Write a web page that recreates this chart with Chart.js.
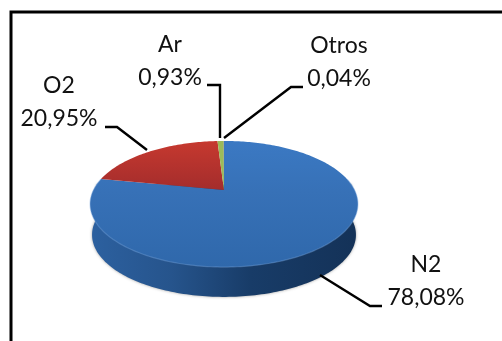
<!DOCTYPE html>
<html>
<head>
<meta charset="utf-8">
<script src="https://cdn.jsdelivr.net/npm/chart.js@4"></script>
<style>
  html, body { margin: 0; padding: 0; background: #fff; }
  canvas { display: block; }
</style>
</head>
<body>
<canvas id="airChart" width="502" height="341"></canvas>
<script>
const categories = ["N2", "O2", "Ar", "Otros"];
const percentages = [78.08, 20.95, 0.93, 0.04];
const sliceColors = ["#3a74bb", "#b93331", "#9bbb59", "#7d60a0"];

// label anchors and leader lines, same order as categories
const labelCenters = [[426, 265], [59, 86], [170, 45], [339, 46]];
const leaderLines = [
  [[320, 275], [370, 306], [382, 306]],
  [[147, 150], [117, 127], [105, 127]],
  [[220, 138], [220, 85], [207, 85]],
  [[224, 138], [291, 87], [303, 87]]
];

// tilted disc: w shrinks towards the back so the apex sits above the ellipse centre
const tilt = 0.222;
const squash = 0.459;
const wallDepth = 31;

function project(arc, a, scale = 1, drop = 0) {
  const u = Math.cos(a), v = Math.sin(a);
  const w = 1 - tilt * v;
  return [
    arc.x + scale * arc.outerRadius * u / w,
    arc.y + drop + scale * arc.outerRadius * squash * v / w
  ];
}

function tracePerimeter(ctx, arc, from, to, scale, drop) {
  const steps = Math.max(2, Math.ceil(Math.abs(to - from) / 0.02));
  for (let i = 0; i <= steps; i++) {
    const p = project(arc, from + (to - from) * i / steps, scale, drop);
    ctx.lineTo(p[0], p[1]);
  }
}

function drawWall(ctx, arc) {
  const grad = ctx.createLinearGradient(arc.x - arc.outerRadius, 0, arc.x + arc.outerRadius, 0);
  grad.addColorStop(0, "#2c609f");
  grad.addColorStop(0.3, "#26548c");
  grad.addColorStop(0.6, "#183c68");
  grad.addColorStop(1, "#143258");
  ctx.save();
  ctx.shadowColor = "rgba(60,60,60,0.5)";
  ctx.shadowBlur = 3;
  ctx.fillStyle = grad;
  ctx.beginPath();
  const start = project(arc, Math.PI * 1.03);
  ctx.moveTo(start[0], start[1]);
  tracePerimeter(ctx, arc, Math.PI * 1.03, -Math.PI * 0.03, 0.985, wallDepth);
  const end = project(arc, -Math.PI * 0.03);
  ctx.lineTo(end[0], end[1]);
  ctx.closePath();
  ctx.fill();
  ctx.restore();
}

const tiltedPie = {
  id: "tiltedPie",
  beforeDatasetDraw(chart, args) {
    const ctx = chart.ctx;
    const arcs = chart.getDatasetMeta(args.index).data;
    const first = arcs[0];
    const top = first.y - first.outerRadius * squash / (1 + tilt);
    const bottom = first.y + first.outerRadius * squash / (1 - tilt);

    drawWall(ctx, first);

    arcs.forEach((arc, i) => {
      const fill = ctx.createLinearGradient(0, top, 0, bottom);
      fill.addColorStop(0, i === 0 ? "#3b79c3" : i === 1 ? "#c6392f" : sliceColors[i]);
      fill.addColorStop(0.4, i === 0 ? "#3771b7" : i === 1 ? "#a32c2c" : sliceColors[i]);
      fill.addColorStop(1, i === 0 ? "#2f68ab" : i === 1 ? "#9a2a2a" : sliceColors[i]);
      ctx.fillStyle = fill;
      ctx.beginPath();
      ctx.moveTo(arc.x, arc.y);
      tracePerimeter(ctx, arc, arc.startAngle, arc.endAngle, 1, 0);
      ctx.closePath();
      ctx.fill();
    });

    // faint bevel along the front rim
    ctx.save();
    ctx.strokeStyle = "rgba(120,165,220,0.4)";
    ctx.lineWidth = 1.2;
    ctx.beginPath();
    tracePerimeter(ctx, first, Math.PI * 1.06, -Math.PI * 0.06, 1, 0);
    ctx.stroke();
    ctx.restore();
    return false;
  },
  afterDraw(chart) {
    const ctx = chart.ctx;
    ctx.save();

    // frame runs along the top and left only
    ctx.strokeStyle = "#000";
    ctx.lineWidth = 3;
    ctx.beginPath();
    ctx.moveTo(11, 341);
    ctx.lineTo(11, 12);
    ctx.lineTo(502, 12);
    ctx.stroke();

    ctx.lineWidth = 2.4;
    leaderLines.forEach(line => {
      ctx.beginPath();
      line.forEach((p, i) => i ? ctx.lineTo(p[0], p[1]) : ctx.moveTo(p[0], p[1]));
      ctx.stroke();
    });

    ctx.fillStyle = "#111";
    ctx.font = "23px Lato";
    ctx.textAlign = "center";
    ctx.textBaseline = "middle";
    categories.forEach((name, i) => {
      const [x, y] = labelCenters[i];
      ctx.fillText(name, x, y);
      ctx.fillText(percentages[i].toFixed(2).replace(".", ",") + "%", x, y + 33);
    });
    ctx.restore();
  }
};

new Chart(document.getElementById("airChart"), {
  type: "pie",
  data: {
    labels: categories,
    datasets: [{ data: percentages, backgroundColor: sliceColors, borderWidth: 0 }]
  },
  options: {
    responsive: false,
    animation: false,
    layout: { padding: { left: 93.4, right: 147.4, top: 59.4, bottom: 20.4 } },
    plugins: { legend: { display: false }, tooltip: { enabled: false } }
  },
  plugins: [tiltedPie]
});
</script>
</body>
</html>
